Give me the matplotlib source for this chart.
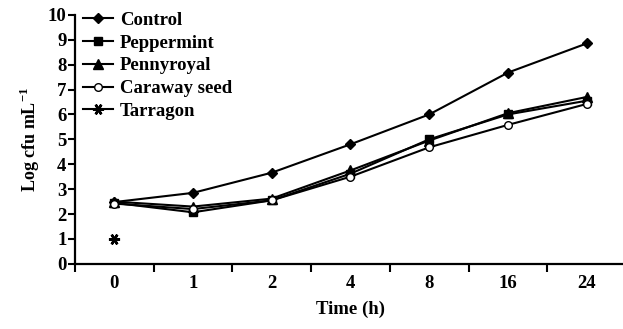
import matplotlib
matplotlib.use('Agg')
import matplotlib.pyplot as plt
import numpy as np

plt.rcParams['font.family'] = ['Liberation Serif', 'DejaVu Serif']
plt.rcParams['font.weight'] = 'bold'
plt.rcParams['axes.labelweight'] = 'bold'
plt.rcParams['mathtext.fontset'] = 'custom'
plt.rcParams['mathtext.rm'] = 'Liberation Serif:bold'
plt.rcParams['mathtext.bf'] = 'Liberation Serif:bold'

times = ['0', '1', '2', '4', '8', '16', '24']
control = [2.48, 2.85, 3.66, 4.8, 6.0, 7.68, 8.85]
peppermint = [2.45, 2.07, 2.55, 3.62, 5.0, 6.0, 6.55]
pennyroyal = [2.5, 2.3, 2.62, 3.75, 4.95, 6.05, 6.7]
caraway = [2.42, 2.2, 2.55, 3.5, 4.68, 5.58, 6.42]
tarragon = [1.0]

x = np.arange(len(times))

fig = plt.figure(figsize=(6.23, 3.29), dpi=100)
ax = fig.add_axes([0.12, 0.198, 0.885, 0.757])

ax.plot(x, control, '-D', color='black', lw=1.5, ms=5.5, label='Control')
ax.plot(x, peppermint, '-s', color='black', lw=1.5, ms=6, label='Peppermint')
ax.plot(x, pennyroyal, '-^', color='black', lw=1.5, ms=6.5, label='Pennyroyal')
ax.plot(x, caraway, '-o', color='black', lw=1.5, ms=5.5, mfc='white', label='Caraway seed')
ax.plot(x[:len(tarragon)], tarragon, '-', marker=(6, 2, 90), color='black', lw=1.5, ms=8,
        mew=1.8, label='Tarragon')

ax.set_xlim(-0.5, 6.5)
ax.set_ylim(0, 10)
ax.set_xticks(x)
ax.set_xticklabels(times)
ax.set_xticks(np.arange(-0.5, 7, 1), minor=True)
ax.set_yticks(range(11))
ax.tick_params(axis='x', which='major', length=0, labelsize=13.5, pad=8)
ax.tick_params(axis='x', which='minor', length=6, width=1.5, direction='out')
ax.tick_params(axis='y', length=5, width=1.5, direction='out', labelsize=13.5, pad=1)
for s in ['top', 'right']:
    ax.spines[s].set_visible(False)
for s in ['left', 'bottom']:
    ax.spines[s].set_linewidth(1.6)

ax.set_xlabel('Time (h)', fontsize=13.5, labelpad=6)
ax.set_ylabel(r'Log cfu mL$^{-1}$', fontsize=13, labelpad=4)

ax.legend(loc='upper left', bbox_to_anchor=(-0.008, 1.065), frameon=False, fontsize=13.5,
          handlelength=1.55, handletextpad=0.4, labelspacing=0.3, borderaxespad=0.3)

fig.savefig('out.png', dpi=100)
